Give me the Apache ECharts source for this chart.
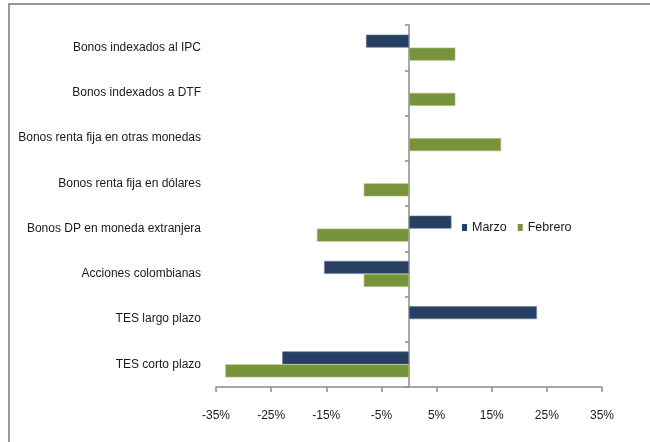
<!DOCTYPE html>
<html>
<head>
<meta charset="utf-8">
<style>
  html, body { margin: 0; padding: 0; background: #fff; }
  #chart { width: 650px; height: 442px; }
</style>
<script src="https://cdn.jsdelivr.net/npm/echarts@6/dist/echarts.min.js"></script>
</head>
<body>
<div id="chart"></div>
<script>
var categories = [
  'Bonos indexados al IPC',
  'Bonos indexados a DTF',
  'Bonos renta fija en otras monedas',
  'Bonos renta fija en dólares',
  'Bonos DP en moneda extranjera',
  'Acciones colombianas',
  'TES largo plazo',
  'TES corto plazo'
]
var marzo = [-7.8, null, null, null, 7.7, -15.4, 23.2, -23.0]
var febrero = [8.4, 8.4, 16.7, -8.2, -16.7, -8.2, null, -33.3]
var xTicks = [-35, -25, -15, -5, 5, 15, 25, 35]

var font = "'Liberation Sans', Arial, sans-serif"
var axisGray = '#8c8c8c'
var textColor = '#1a1a1a'

var chart = echarts.init(document.getElementById('chart'))
chart.setOption({
  animation: false,
  textStyle: {
    fontFamily: font
  },
  graphic: [{
    type: 'rect',
    shape: { x: 9, y: 4, width: 700, height: 500 },
    style: { fill: 'none', stroke: '#999', lineWidth: 2 },
    silent: true
  }],
  legend: {
    left: 457,
    top: 216,
    icon: 'rect',
    itemWidth: 5,
    itemHeight: 7,
    itemGap: 11,
    itemStyle: { borderWidth: 0 },
    data: ['Marzo', 'Febrero'],
    textStyle: {
      fontFamily: font,
      fontSize: 12.5,
      color: textColor
    }
  },
  grid: {
    left: 216,
    right: 48,
    top: 25,
    bottom: 55,
    containLabel: false,
    outerBoundsMode: 'none'
  },
  xAxis: {
    type: 'value',
    min: -35,
    max: 35,
    splitLine: { show: false },
    axisLine: {
      show: true,
      onZero: false,
      lineStyle: { color: axisGray, width: 1.5 }
    },
    axisTick: {
      show: true,
      length: 5,
      customValues: xTicks,
      lineStyle: { color: axisGray, width: 1.5 }
    },
    axisLabel: {
      margin: 23,
      customValues: xTicks,
      formatter: '{value}%',
      fontFamily: font,
      fontSize: 12,
      color: textColor
    }
  },
  yAxis: [{
    // axis line sitting on 0%
    type: 'category',
    inverse: true,
    position: 'left',
    data: categories,
    axisLine: {
      show: true,
      onZero: true,
      lineStyle: { color: axisGray, width: 1.5 }
    },
    axisTick: {
      show: true,
      length: 4,
      lineStyle: { color: axisGray, width: 1.5 }
    },
    axisLabel: { show: false },
    splitLine: { show: false }
  }, {
    // category labels on the left edge
    type: 'category',
    inverse: true,
    position: 'left',
    data: categories,
    axisLine: { show: false, onZero: false },
    axisTick: { show: false },
    axisLabel: {
      margin: 15,
      padding: [4, 0, 0, 0],
      fontFamily: font,
      fontSize: 12,
      color: textColor
    },
    splitLine: { show: false }
  }],
  series: [{
    name: 'Marzo',
    type: 'bar',
    yAxisIndex: 0,
    barWidth: 13,
    barGap: '0%',
    itemStyle: {
      color: '#263f62',
      borderColor: '#6c7f98',
      borderWidth: 0.6
    },
    data: marzo
  }, {
    name: 'Febrero',
    type: 'bar',
    yAxisIndex: 0,
    barWidth: 13,
    barGap: '0%',
    itemStyle: {
      color: '#77933c',
      borderColor: '#a4b87a',
      borderWidth: 0.6
    },
    data: febrero
  }]
})
</script>
</body>
</html>
